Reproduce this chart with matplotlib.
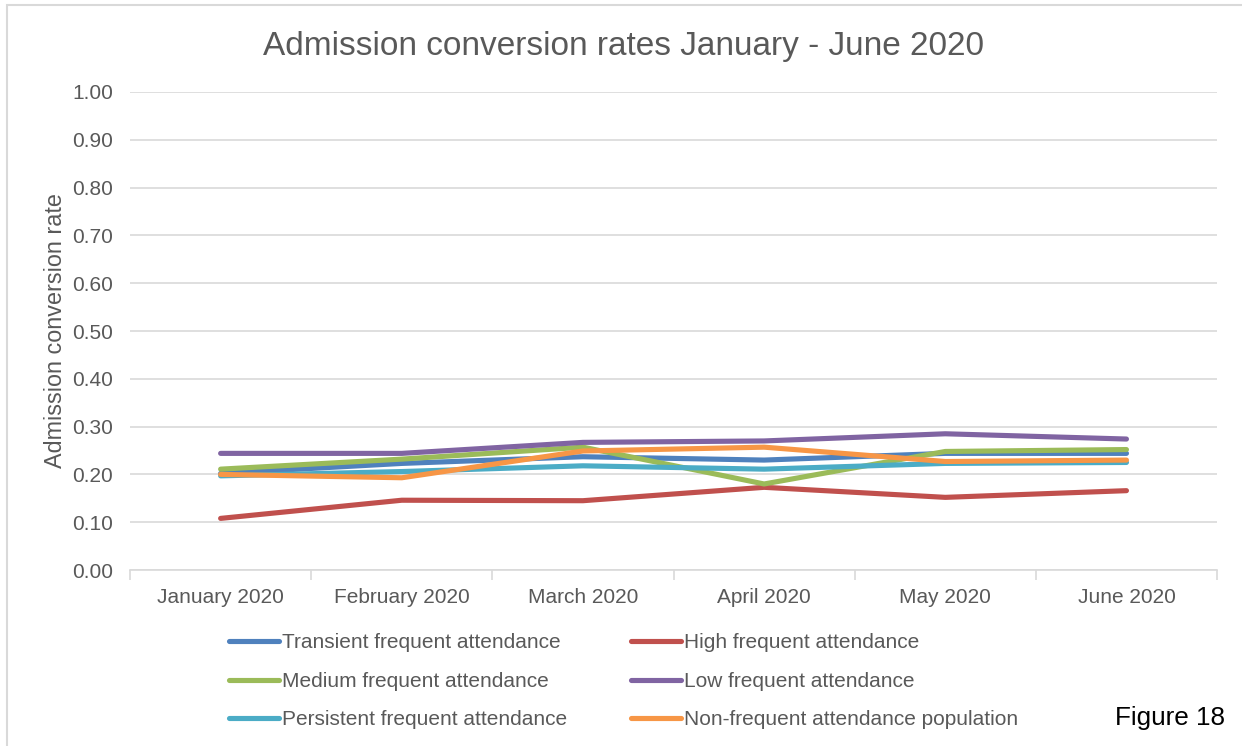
import numpy as np
import matplotlib.pyplot as plt
from matplotlib.patches import Rectangle

plt.rcParams['font.family'] = ['Liberation Sans', 'DejaVu Sans']

months = ['January 2020', 'February 2020', 'March 2020', 'April 2020', 'May 2020', 'June 2020']
transient = [0.202, 0.223, 0.237, 0.230, 0.244, 0.244]
high = [0.108, 0.146, 0.145, 0.173, 0.152, 0.166]
medium = [0.211, 0.232, 0.257, 0.180, 0.248, 0.252]
low = [0.244, 0.244, 0.267, 0.270, 0.285, 0.274]
persistent = [0.197, 0.206, 0.218, 0.211, 0.223, 0.225]
non_frequent = [0.200, 0.193, 0.249, 0.257, 0.227, 0.230]

series = [
    ('Transient frequent attendance', transient, '#4F81BD'),
    ('High frequent attendance', high, '#C0504D'),
    ('Medium frequent attendance', medium, '#9BBB59'),
    ('Low frequent attendance', low, '#8064A2'),
    ('Persistent frequent attendance', persistent, '#4BACC6'),
    ('Non-frequent attendance population', non_frequent, '#F79646'),
]

txt = '#595959'
fs = 15
fig = plt.figure(figsize=(12.42, 7.46), dpi=100)
ax = fig.add_axes([0.1047, 0.2359, 0.8752, 0.6408])

x = np.arange(len(months))
handles = {}
for name, vals, col in series:
    ln, = ax.plot(x, vals, color=col, lw=3.7, solid_capstyle='round', solid_joinstyle='round')
    handles[name] = ln

ax.set_xlim(-0.5, len(months) - 0.5)
ax.set_ylim(0, 1.0)
ax.set_yticks(np.arange(0, 1.01, 0.1))
ax.set_yticklabels([f'{v:.2f}' for v in np.arange(0, 1.01, 0.1)])
ax.set_xticks(x)
ax.set_xticklabels(months)
ax.set_xticks(np.arange(-0.5, len(months), 1), minor=True)
ax.tick_params(axis='x', which='major', length=0, pad=13, labelsize=fs, labelcolor=txt)
ax.tick_params(axis='x', which='minor', length=7, color='#D9D9D9', width=1.2)
ax.tick_params(axis='y', length=0, pad=12, labelsize=fs, labelcolor=txt)
ax.grid(axis='y', color='#D9D9D9', lw=1.2)
ax.set_axisbelow(True)
for s in ['top', 'right', 'left']:
    ax.spines[s].set_visible(False)
ax.spines['bottom'].set_color('#D9D9D9')
ax.spines['bottom'].set_linewidth(1.2)

ax.set_ylabel('Admission conversion rate', fontsize=16.8, color=txt, labelpad=4)
fig.text(0.502, 0.938, 'Admission conversion rates January - June 2020', ha='center', va='center',
         fontsize=24, color=txt)

# legend filled column by column, so reorder to read row by row
order = [0, 2, 4, 1, 3, 5]
names = [series[i][0] for i in order]
leg = fig.legend([handles[n] for n in names], names, ncol=2, loc='upper left',
                 bbox_to_anchor=(0.1695, 0.176), frameon=False, fontsize=fs,
                 handlelength=2.4, handletextpad=0.15, columnspacing=3.05, labelspacing=0.93)
for t in leg.get_texts():
    t.set_color(txt)

fig.text(0.986, 0.037, 'Figure 18', ha='right', va='center', fontsize=18.8, color='black')

fig.add_artist(Rectangle((0.006, -0.01), 1.0, 1.003, transform=fig.transFigure,
                         fill=False, edgecolor='#D9D9D9', lw=1.5))

fig.savefig('out.png', dpi=100)
